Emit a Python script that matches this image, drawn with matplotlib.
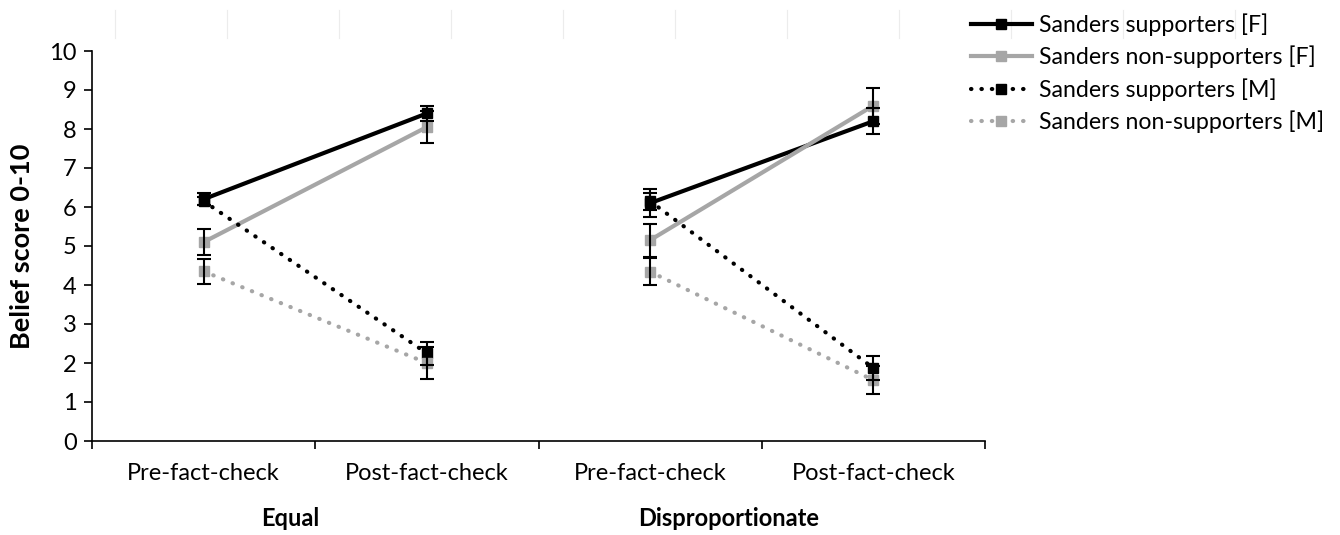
import matplotlib.pyplot as plt
import numpy as np
from matplotlib.lines import Line2D

plt.rcParams['font.family'] = ['Lato', 'DejaVu Sans']

groups = ['Equal', 'Disproportionate']
phases = ['Pre-fact-check', 'Post-fact-check', 'Pre-fact-check', 'Post-fact-check']

labels = ['Sanders supporters [F]', 'Sanders non-supporters [F]',
          'Sanders supporters [M]', 'Sanders non-supporters [M]']
supp_f = [6.2, 8.4, 6.1, 8.2]
supp_f_err = [0.15, 0.2, 0.35, 0.34]
nonsupp_f = [5.1, 8.05, 5.15, 8.6]
nonsupp_f_err = [0.33, 0.4, 0.42, 0.46]
supp_m = [6.15, 2.25, 6.15, 1.87]
supp_m_err = [0.1, 0.3, 0.22, 0.3]
nonsupp_m = [4.35, 2.0, 4.34, 1.56]
nonsupp_m_err = [0.32, 0.42, 0.34, 0.36]

black = '#000000'
grey = '#a6a6a6'
dotted = (0, (0.1, 2.4))

series = [
    (supp_f, supp_f_err, black, '-'),
    (nonsupp_f, nonsupp_f_err, grey, '-'),
    (supp_m, supp_m_err, black, dotted),
    (nonsupp_m, nonsupp_m_err, grey, dotted),
]

fig = plt.figure(figsize=(13.4, 5.35), dpi=100)
ax = fig.add_axes([92 / 1340, 1 - 441 / 535, 893 / 1340, 390 / 535])

x = np.arange(len(phases))
for vals, errs, col, ls in series:
    vals = np.array(vals)
    for g in range(len(groups)):
        sl = slice(2 * g, 2 * g + 2)
        ax.plot(x[sl], vals[sl], color=col, lw=3, ls=ls, dash_capstyle='round',
                marker='s', ms=7, mfc=col, mec=col, zorder=3)
for vals, errs, col, ls in series:
    ax.errorbar(x, vals, yerr=errs, fmt='none', ecolor='black', elinewidth=1.5,
                capsize=5, capthick=1.5, zorder=4)

ax.set_xlim(-0.5, 3.5)
ax.set_ylim(0, 10)
ax.set_yticks(range(0, 11))
ax.set_xticks(np.arange(-0.5, 4, 1))
ax.set_xticklabels([])
ax.set_xticks(x, minor=True)
ax.set_xticklabels(phases, minor=True)
ax.tick_params(axis='x', which='minor', length=0, pad=16, labelsize=17)
ax.tick_params(axis='x', which='major', length=6, width=1.2, direction='out')
ax.tick_params(axis='y', length=6, width=1.2, direction='out', labelsize=17, pad=5)
for s in ['top', 'right']:
    ax.spines[s].set_visible(False)
for s in ['left', 'bottom']:
    ax.spines[s].set_linewidth(1.2)

ax.set_ylabel('Belief score 0-10', fontsize=19.5, fontweight='bold')
ax.yaxis.set_label_coords(-(92 - 34) / 893, 0.5)

# group labels below categories
for gx, name in zip([0.39, 2.35], groups):
    ax.text(gx, -0.2, name, transform=ax.get_xaxis_transform(), ha='center', va='center',
            fontsize=17, fontweight='bold')

handles = [Line2D([], [], color=col, lw=3, ls=ls, dash_capstyle='round',
                  marker='s', ms=7, mfc=col, mec=col)
           for vals, errs, col, ls in series]
fig.legend(handles, labels, loc='upper left', bbox_to_anchor=(962 / 1340, 1 - 4 / 535),
           frameon=False, fontsize=16.7, handlelength=2.6, handletextpad=0.3,
           labelspacing=0.42, borderaxespad=0)

# faint sheet gridlines at top
for px in np.arange(115, 1340, 112):
    fig.add_artist(Line2D([px / 1340, px / 1340], [1 - 10 / 535, 1 - 38 / 535],
                          color='#ececec', lw=0.8))

fig.savefig('out.png', dpi=100)
